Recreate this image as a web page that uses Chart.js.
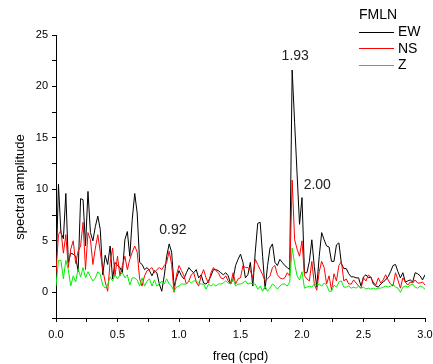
<!DOCTYPE html>
<html><head><meta charset="utf-8">
<script src="https://cdn.jsdelivr.net/npm/chart.js@4/dist/chart.umd.min.js"></script>
<style>html,body{margin:0;padding:0;background:#fff}#wrap{width:433px;height:364px}</style>
</head><body><div id="wrap"><canvas id="c" width="433" height="364"></canvas></div>
<script>
const freq = [
0.00,0.02,0.04,0.06,0.08,0.10,0.12,0.14,0.16,0.18,
0.20,0.22,0.24,0.26,0.28,0.30,0.32,0.34,0.36,0.38,
0.40,0.42,0.44,0.46,0.48,0.50,0.52,0.54,0.56,0.58,
0.60,0.62,0.64,0.66,0.68,0.70,0.72,0.74,0.76,0.78,
0.80,0.82,0.84,0.86,0.88,0.90,0.92,0.94,0.96,0.98,
1.00,1.02,1.04,1.06,1.08,1.10,1.12,1.14,1.16,1.18,
1.20,1.22,1.24,1.26,1.28,1.30,1.32,1.34,1.36,1.38,
1.40,1.42,1.44,1.46,1.48,1.50,1.52,1.54,1.56,1.58,
1.60,1.62,1.64,1.66,1.68,1.70,1.72,1.74,1.76,1.78,
1.80,1.82,1.84,1.86,1.88,1.90,1.92,1.94,1.96,1.98,
2.00,2.02,2.04,2.06,2.08,2.10,2.12,2.14,2.16,2.18,
2.20,2.22,2.24,2.26,2.28,2.30,2.32,2.34,2.36,2.38,
2.40,2.42,2.44,2.46,2.48,2.50,2.52,2.54,2.56,2.58,
2.60,2.62,2.64,2.66,2.68,2.70,2.72,2.74,2.76,2.78,
2.80,2.82,2.84,2.86,2.88,2.90,2.92,2.94,2.96,2.98,
3.00];
const ewValues = [
1.6,10.5,5.8,5.2,9.6,2.9,3.8,3.7,3.5,2.0,
9.1,9.0,4.5,9.8,5.8,5.0,6.4,7.4,6.1,1.7,
3.6,2.7,4.5,1.3,2.9,2.6,2.4,1.9,5.1,5.9,
3.5,7.1,9.6,7.7,2.9,2.7,2.2,2.4,2.1,1.6,
2.1,1.9,0.8,0.1,1.6,3.5,4.7,3.9,0.6,1.4,
2.1,1.6,1.3,1.9,2.4,2.1,1.9,2.2,1.4,1.7,
0.9,0.8,1.1,1.6,2.2,2.2,2.1,1.9,1.7,1.9,
1.6,0.8,1.3,2.6,3.2,3.7,2.9,1.4,1.7,2.9,
0.6,3.9,6.7,6.8,3.5,0.3,2.6,4.3,4.7,2.9,
2.6,3.2,2.9,2.6,2.4,2.2,21.6,16.5,11.5,6.6,
9.2,1.9,1.9,3.0,5.1,2.5,0.5,3.5,5.8,5.1,
4.5,4.4,3.0,3.0,4.6,4.8,2.8,2.3,2.3,1.8,
1.5,1.5,1.4,1.4,0.6,1.5,1.7,1.4,1.5,0.8,
0.6,0.5,0.8,1.0,1.2,1.5,2.0,2.6,2.7,2.0,
1.4,1.9,1.0,1.1,1.2,1.0,1.9,1.8,1.6,1.2,
1.7];
const nsValues = [
1.9,5.6,6.0,3.8,5.6,2.4,4.2,5.0,2.8,4.0,
4.5,6.8,2.2,5.8,5.1,2.7,4.3,5.6,3.9,2.2,
1.0,0.1,2.9,4.3,1.6,3.5,1.6,2.6,3.5,2.2,
3.2,3.9,4.5,3.9,1.3,0.6,1.6,2.1,2.2,2.4,
1.9,2.2,2.4,2.2,2.6,2.9,4.0,2.7,0.0,1.7,
2.6,2.1,1.6,0.8,1.1,1.7,1.9,1.0,0.6,1.6,
2.2,1.4,0.9,1.9,2.4,2.1,1.9,1.4,1.3,1.6,
1.1,0.8,1.9,0.8,1.3,1.4,2.6,2.4,2.4,2.1,
1.4,3.2,2.7,2.2,1.7,1.1,1.3,1.6,2.4,2.6,
1.7,1.4,1.3,1.4,1.9,1.6,10.9,5.1,4.2,3.5,
5.0,1.6,1.3,1.1,3.0,0.8,0.2,2.0,3.0,2.4,
0.8,1.6,0.2,1.8,1.1,2.6,3.0,1.1,1.3,0.8,
0.8,1.2,0.9,0.6,0.4,1.4,1.1,1.7,1.4,1.0,
0.7,1.4,0.9,1.2,1.7,1.2,0.8,0.6,1.9,1.2,
0.4,1.4,1.0,0.7,1.0,0.9,1.2,0.9,0.9,1.0,
0.7];
const zValues = [
0.6,3.1,3.1,1.3,3.1,2.2,0.6,1.6,1.0,2.3,
1.5,2.4,1.4,2.0,1.5,1.1,1.4,2.0,1.7,0.7,
0.4,0.7,1.5,1.1,1.7,1.3,1.7,1.9,1.4,1.7,
0.7,1.4,1.4,1.2,0.6,1.4,0.6,1.1,1.3,0.6,
1.2,0.6,0.8,1.1,0.8,1.3,0.8,0.6,0.1,0.5,
0.6,0.8,0.8,0.8,1.1,0.9,1.1,1.1,0.9,0.8,
0.8,0.3,0.8,0.6,0.8,0.6,0.8,0.8,0.9,1.1,
0.9,0.8,1.3,0.6,0.8,0.8,0.9,1.1,0.8,0.9,
0.8,0.8,0.3,0.6,0.1,0.6,0.1,0.4,0.8,0.6,
0.3,0.6,0.8,0.8,0.6,1.0,4.3,2.8,1.6,1.2,
2.0,0.4,0.5,0.6,0.5,0.8,0.7,0.8,0.6,0.9,
0.7,0.1,0.1,0.7,0.5,1.0,1.1,0.5,0.5,0.6,
0.4,0.5,0.4,0.6,0.4,0.5,0.3,0.4,0.3,0.4,
0.3,0.4,0.4,0.5,0.6,0.5,0.6,0.8,0.5,0.4,
0.0,0.5,0.6,0.5,0.7,0.8,0.5,0.4,0.6,0.5,
0.3];
const seriesNames = ['EW', 'NS', 'Z'];
const seriesColors = ['#000000', '#ff0000', '#00ee00'];
const legendTitle = 'FMLN';
const xTitle = 'freq (cpd)';
const yTitle = 'spectral amplitude';
const annoText = ['1.93', '2.00', '0.92'];
const annoX = [1.945, 2.124, 0.95];
const annoY = [22.9, 10.4, 6.0];

const FONT = '"Liberation Sans", Arial, sans-serif';
const toPts = vals => freq.map((f, i) => ({x: f, y: vals[i]}));
const allVals = [ewValues, nsValues, zValues];

const overlay = {
  id: 'overlay',
  afterDraw(chart) {
    const ctx = chart.ctx;
    const xs = chart.scales.x, ys = chart.scales.y;
    ctx.save();
    ctx.fillStyle = '#222';
    ctx.textAlign = 'center';
    ctx.textBaseline = 'middle';
    ctx.font = '14px ' + FONT;
    annoText.forEach((t, i) => {
      ctx.fillText(t, xs.getPixelForValue(annoX[i]), ys.getPixelForValue(annoY[i]));
    });
    ctx.fillStyle = '#000';
    ctx.font = '13px ' + FONT;
    ctx.fillText(xTitle, (chart.chartArea.left + chart.chartArea.right) / 2, 356);
    ctx.save();
    ctx.translate(20, 187);
    ctx.rotate(-Math.PI / 2);
    ctx.fillText(yTitle, 0, 0);
    ctx.restore();
    ctx.textAlign = 'left';
    ctx.font = '14px ' + FONT;
    ctx.fillText(legendTitle, 359, 15);
    seriesNames.forEach((n, i) => {
      const y = 31.5 + i * 16.7;
      ctx.strokeStyle = seriesColors[i];
      ctx.lineWidth = 1;
      ctx.beginPath();
      ctx.moveTo(359, Math.round(y) + 0.5);
      ctx.lineTo(394, Math.round(y) + 0.5);
      ctx.stroke();
      ctx.fillStyle = '#000';
      ctx.fillText(n, 398, y + 0.5);
    });
    ctx.restore();
  }
};

new Chart(document.getElementById('c'), {
  type: 'line',
  data: {
    datasets: seriesNames.map((n, i) => ({
      label: n,
      data: toPts(allVals[i]),
      borderColor: seriesColors[i],
      borderWidth: 1,
      pointRadius: 0,
      tension: 0,
      fill: false,
      order: 3 - i
    }))
  },
  options: {
    responsive: false,
    animation: false,
    devicePixelRatio: 1,
    layout: { padding: { left: 0, right: 8, top: 35, bottom: 0 } },
    plugins: { legend: { display: false }, tooltip: { enabled: false } },
    scales: {
      x: {
        type: 'linear', min: 0, max: 3,
        border: { color: '#000', width: 1 },
        grid: { drawOnChartArea: false, drawTicks: true, tickLength: 4, color: '#000' },
        ticks: {
          stepSize: 0.25, autoSkip: false, maxRotation: 0, padding: 6,
          color: '#000', font: { size: 11, family: FONT },
          callback: v => Math.abs(v * 2 - Math.round(v * 2)) < 1e-6 ? v.toFixed(1) : ''
        },
        afterFit: s => { s.height = 46; s.paddingRight = 0; s.paddingLeft = 0; }
      },
      y: {
        type: 'linear', min: -2.5, max: 25,
        border: { color: '#000', width: 1 },
        grid: { drawOnChartArea: false, drawTicks: true, tickLength: 4, color: '#000' },
        ticks: {
          stepSize: 2.5, autoSkip: false, padding: 4,
          color: '#000', font: { size: 11, family: FONT },
          callback: v => Math.abs(v / 5 - Math.round(v / 5)) < 1e-6 ? String(Math.round(v)) : ''
        },
        afterFit: s => { s.width = 56; s.paddingTop = 0; s.paddingBottom = 0; }
      }
    }
  },
  plugins: [overlay]
});
</script></body></html>
